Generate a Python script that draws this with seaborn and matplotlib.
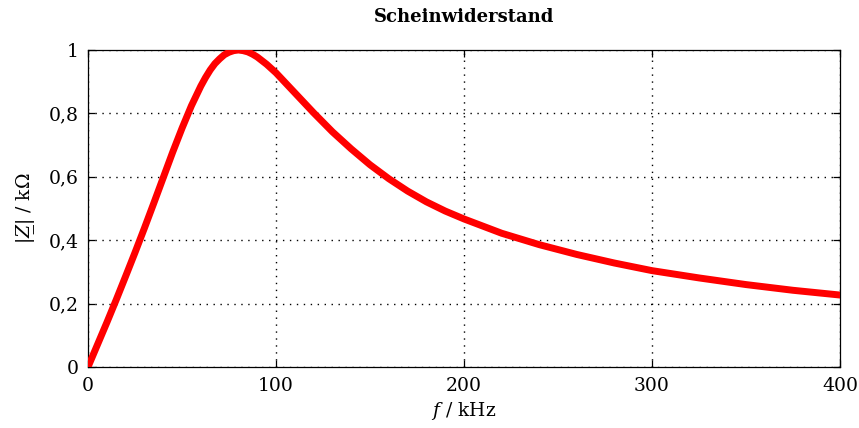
import matplotlib
matplotlib.use("Agg")
import matplotlib.pyplot as plt
import seaborn as sns
import pandas as pd

# Frequency (kHz) and impedance magnitude (kOhm)
freq_khz = [0, 5, 10, 15, 20, 25, 30, 35, 40, 45, 50, 55, 60, 62.5, 65, 67.5,
            70, 72.5, 75, 77.5, 80, 82.5, 85, 87.5, 90, 95, 100, 110, 120, 130,
            140, 150, 160, 170, 180, 190, 200, 220, 240, 260, 280, 300, 325,
            350, 375, 400]
z_kohm = [0.0, 0.070, 0.140, 0.212, 0.286, 0.361, 0.438, 0.517, 0.597, 0.677,
          0.753, 0.824, 0.886, 0.913, 0.937, 0.957, 0.972, 0.985, 0.993, 0.998,
          1.000, 0.998, 0.994, 0.987, 0.978, 0.955, 0.928, 0.865, 0.802, 0.742,
          0.688, 0.638, 0.594, 0.555, 0.521, 0.492, 0.467, 0.422, 0.386, 0.355,
          0.328, 0.304, 0.281, 0.260, 0.242, 0.227]

x_ticks = [0, 100, 200, 300, 400]
x_tick_labels = ["0", "100", "200", "300", "400"]
y_ticks = [0, 0.2, 0.4, 0.6, 0.8, 1.0]
y_tick_labels = ["0", "0,2", "0,4", "0,6", "0,8", "1"]

df = pd.DataFrame({"f": freq_khz, "Z": z_kohm})

sns.set_theme(style="white")
plt.rcParams["font.family"] = ["DejaVu Serif"]
plt.rcParams["mathtext.fontset"] = "dejavuserif"

fig = plt.figure(figsize=(8.59, 4.28), dpi=100)
ax = fig.add_axes([88 / 859, 1 - 367 / 428, (840 - 88) / 859, (367 - 50) / 428])

sns.lineplot(data=df, x="f", y="Z", ax=ax, color="#ff0000", linewidth=5.0,
             solid_capstyle="round", solid_joinstyle="round", zorder=3)

ax.set_xlim(0, 400)
ax.set_ylim(0, 1)
ax.set_xticks(x_ticks)
ax.set_xticklabels(x_tick_labels)
ax.set_yticks(y_ticks)
ax.set_yticklabels(y_tick_labels)

ax.grid(True, color="black", linestyle=(0, (1.0, 4.0)), linewidth=1.0)
for s in ax.spines.values():
    s.set_visible(True)
    s.set_color("black")
    s.set_linewidth(0.9)

ax.tick_params(axis="both", which="both", direction="in", length=5, width=0.9,
               top=True, right=True, bottom=True, left=True,
               labelsize=13.5, colors="black", pad=7)

ax.set_xlabel(r"$f$ / kHz", fontsize=13.5, color="black", labelpad=4)
# complex impedance: underlined Z (combining low line)
ax.set_ylabel("$|\\mathit{Z}\u0332|$ / kΩ", fontsize=13.5, color="black", labelpad=8)
ax.set_title("Scheinwiderstand", fontsize=13, fontweight="bold", color="black", pad=20)

fig.savefig("out.png", dpi=100)
